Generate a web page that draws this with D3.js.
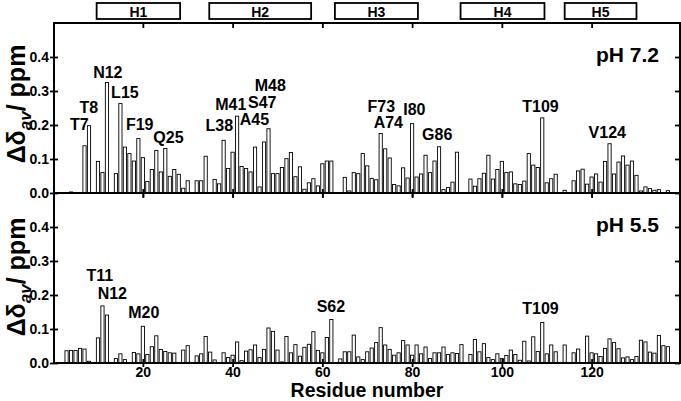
<!DOCTYPE html>
<html>
<head>
<meta charset="utf-8">
<script src="https://cdn.jsdelivr.net/npm/d3@7"></script>
<style>
body { margin: 0; background: #fff; }
text { font-family: Arial, "Liberation Sans", sans-serif; font-weight: bold; fill: #000; }
</style>
</head>
<body>
<div id="vis"></div>
<script>
// residue numbers and shift perturbations, pH 7.2
var res72 = [4, 7, 8, 10, 11, 12, 14, 15, 16, 17, 18, 19, 20, 21, 22, 23, 24, 25, 26, 27, 28, 29, 30,
  32, 33, 34, 36, 37, 38, 39, 40, 41, 42, 43, 44, 45, 46, 47, 48, 49, 50, 51, 52, 53, 54, 55, 56, 57,
  58, 59, 60, 61, 62, 65, 66, 67, 68, 69, 70, 71, 72, 73, 74, 75, 76, 77, 78, 79, 80, 81, 82, 83, 84,
  85, 86, 87, 88, 89, 90, 93, 94, 95, 96, 97, 98, 99, 100, 101, 102, 103, 104, 105, 106, 107, 108,
  109, 110, 111, 112, 114, 116, 117, 118, 119, 120, 121, 122, 123, 124, 125, 126, 127, 128, 129,
  130, 131, 132, 133, 134, 135, 137];
var val72 = [0.003, 0.139, 0.198, 0.093, 0.060, 0.325, 0.057, 0.263, 0.135, 0.116, 0.094, 0.160,
  0.104, 0.034, 0.069, 0.125, 0.062, 0.131, 0.049, 0.069, 0.055, 0.014, 0.036,
  0.036, 0.036, 0.108, 0.040, 0.027, 0.155, 0.072, 0.120, 0.226, 0.078, 0.072, 0.062, 0.135, 0.018,
  0.150, 0.189, 0.057, 0.057, 0.075, 0.101, 0.119, 0.048, 0.077, 0.011, 0.030,
  0.042, 0.021, 0.086, 0.094, 0.094, 0.046, 0.006, 0.060, 0.057, 0.116, 0.080, 0.043, 0.039, 0.175,
  0.130, 0.103, 0.025, 0.021, 0.074, 0.044, 0.204, 0.047, 0.056, 0.111, 0.060,
  0.094, 0.136, 0.010, 0.016, 0.032, 0.120, 0.041, 0.020, 0.042, 0.058, 0.111, 0.041, 0.069, 0.093,
  0.060, 0.062, 0.027, 0.025, 0.035, 0.116, 0.082, 0.075,
  0.221, 0.030, 0.042, 0.055, 0.008, 0.036, 0.065, 0.070, 0.026, 0.047, 0.056, 0.032, 0.093, 0.145,
  0.056, 0.091, 0.109, 0.082, 0.094,
  0.052, 0.006, 0.018, 0.013, 0.008, 0.010, 0.007];

// pH 5.5
var res55 = [3, 4, 5, 6, 7, 8, 10, 11, 12, 14, 15, 16, 18, 19, 20, 21, 22, 23, 24, 25, 26, 27, 29, 30,
  32, 33, 34, 35, 36, 38, 39, 40, 41, 42, 43, 44, 45, 46, 47, 48, 49, 50, 51, 52, 53, 54, 55, 56, 57,
  58, 59, 60, 61, 62, 64, 65, 66, 67, 68, 69, 70, 71, 72, 73, 74, 75, 76, 77, 78, 79, 80, 81, 82, 83,
  84, 85, 86, 87, 88, 89, 90, 91, 93, 94, 95, 96, 97, 98, 99, 100, 101, 102, 103, 104, 105, 106, 107,
  108, 109, 110, 111, 112, 114, 116, 117, 119, 120, 121, 122, 123, 124, 125, 126, 127, 128, 129, 130,
  131, 132, 133, 134, 135, 136, 137];
var val55 = [0.036, 0.037, 0.037, 0.043, 0.041, 0.005, 0.074, 0.168, 0.141, 0.013, 0.027, 0.010,
  0.031, 0.027, 0.108, 0.025, 0.048, 0.080, 0.040, 0.034, 0.030, 0.029, 0.038, 0.051,
  0.021, 0.027, 0.078, 0.032, 0.009, 0.030, 0.016, 0.023, 0.062, 0.007, 0.035, 0.039, 0.053, 0.016,
  0.040, 0.103, 0.093, 0.038, 0.003, 0.078, 0.030, 0.054, 0.020, 0.046, 0.055,
  0.092, 0.037, 0.030, 0.075, 0.128, 0.012, 0.033, 0.033, 0.082, 0.018, 0.010, 0.033, 0.044, 0.060,
  0.104, 0.053, 0.040, 0.023, 0.030, 0.066, 0.053, 0.023, 0.053, 0.027, 0.047,
  0.013, 0.030, 0.030, 0.047, 0.025, 0.030, 0.028, 0.054, 0.025, 0.069, 0.033, 0.057, 0.016, 0.010,
  0.027, 0.013, 0.022, 0.038, 0.025, 0.008, 0.064, 0.006, 0.077,
  0.034, 0.119, 0.027, 0.053, 0.033, 0.053, 0.030, 0.041, 0.079, 0.030, 0.027, 0.019, 0.043, 0.071,
  0.060, 0.042, 0.015, 0.018, 0.010, 0.019,
  0.067, 0.062, 0.032, 0.029, 0.081, 0.051, 0.048];

// labelled residues
var names72 = ["T7", "T8", "N12", "L15", "F19", "Q25", "L38", "M41", "A45", "S47", "M48",
  "F73", "A74", "I80", "G86", "T109", "V124"];
var names55 = ["T11", "N12", "M20", "S62", "T109"];
// where the labels sit (residue axis, ppm axis)
var labelAt72 = [[5.85, 0.184], [7.97, 0.234], [12.2, 0.337], [16.0, 0.279], [19.3, 0.184],
  [25.7, 0.146], [37.05, 0.181], [39.6, 0.243], [44.85, 0.199], [46.6, 0.249], [48.4, 0.299],
  [73.15, 0.238], [74.7, 0.19], [80.5, 0.229], [85.6, 0.155], [108.6, 0.238], [123.5, 0.161]];
var labelAt55 = [[10.4, 0.24], [13.2, 0.187], [20.2, 0.131], [61.9, 0.149], [108.6, 0.143]];

// helices
var helixNames = ["H1", "H2", "H3", "H4", "H5"];
var helixStart = [9.7, 34.8, 62.8, 90.8, 114];
var helixEnd = [28.3, 57.5, 81.3, 109.5, 130];

var xTicks = [20, 40, 60, 80, 100, 120];
var yTicks = [0, 0.1, 0.2, 0.3, 0.4];

var width = 681, height = 401;
var left = 54, right = 680, panelH = 170;

var svg = d3.select("#vis")
  .append("svg")
  .attr("width", width)
  .attr("height", height);

var x = d3.scaleLinear().domain([0.2, 139.7]).range([left, right]);

// helix boxes on top
var hg = svg.append("g");
helixNames.forEach(function(h, i) {
  hg.append("rect")
    .attr("x", x(helixStart[i]))
    .attr("y", 3)
    .attr("width", x(helixEnd[i]) - x(helixStart[i]))
    .attr("height", 16)
    .attr("fill", "#fff")
    .attr("stroke", "#000")
    .attr("stroke-width", 1.8);
  hg.append("text")
    .attr("x", (x(helixStart[i]) + x(helixEnd[i])) / 2)
    .attr("y", 16.5)
    .attr("text-anchor", "middle")
    .style("font-size", "14px")
    .text(h);
});

var panels = [
  {title: "pH 7.2", top: 23, mid: 104, res: res72, val: val72, names: names72, at: labelAt72},
  {title: "pH 5.5", top: 193, mid: 277, res: res55, val: val55, names: names55, at: labelAt55}
];

panels.forEach(function(p, pi) {
  var y = d3.scaleLinear().domain([0, 0.5]).range([p.top + panelH, p.top]);
  var g = svg.append("g");
  var bars = p.res.map(function(r, i) { return {r: r, v: p.val[i]}; });

  g.selectAll("rect.bar")
    .data(bars)
    .join("rect")
    .attr("class", "bar")
    .attr("x", d => x(d.r) - 1.6)
    .attr("width", 3.2)
    .attr("y", d => y(d.v))
    .attr("height", d => y(0) - y(d.v))
    .attr("fill", "#fff")
    .attr("stroke", "#000")
    .attr("stroke-width", 0.9);

  // axes: ticks cross on left/bottom, inward on top/right
  var ax = [
    {a: d3.axisLeft(y).tickValues(yTicks).tickSize(4).tickPadding(1).tickFormat(d3.format(".1f")), t: "translate(" + left + ",0)"},
    {a: d3.axisLeft(y).tickValues(yTicks).tickSize(-4).tickFormat(""), t: "translate(" + left + ",0)"},
    {a: d3.axisRight(y).tickValues(yTicks).tickSize(-5).tickFormat(""), t: "translate(" + right + ",0)"},
    {a: d3.axisBottom(x).tickValues(xTicks).tickSize(4).tickPadding(0).tickFormat(pi == 1 ? d3.format("d") : ""), t: "translate(0," + (p.top + panelH) + ")"},
    {a: d3.axisBottom(x).tickValues(xTicks).tickSize(-4).tickFormat(""), t: "translate(0," + (p.top + panelH) + ")"},
    {a: d3.axisTop(x).tickValues(xTicks).tickSize(-5).tickFormat(""), t: "translate(0," + p.top + ")"}
  ];
  ax.forEach(function(o) {
    var ag = g.append("g").attr("transform", o.t).call(o.a);
    ag.select(".domain").remove();
    ag.selectAll("line").attr("stroke", "#000").attr("stroke-width", 1.8);
    ag.selectAll("text").style("font-size", "14px").style("font-family", "Arial, 'Liberation Sans', sans-serif").style("font-weight", "bold").attr("fill", "#000");
  });

  g.append("rect")
    .attr("x", left)
    .attr("y", p.top)
    .attr("width", right - left)
    .attr("height", panelH)
    .attr("fill", "none")
    .attr("stroke", "#000")
    .attr("stroke-width", 2);

  g.append("text")
    .attr("x", 659)
    .attr("y", p.top + 39)
    .attr("text-anchor", "end")
    .style("font-size", "21px")
    .text(p.title);

  g.selectAll("text.lab")
    .data(p.names)
    .join("text")
    .attr("class", "lab")
    .attr("x", (d, i) => x(p.at[i][0]))
    .attr("y", (d, i) => y(p.at[i][1]))
    .attr("text-anchor", "middle")
    .style("font-size", "16px")
    .text(d => d);

  // y title
  var yt = g.append("text")
    .attr("transform", "translate(25," + p.mid + ") rotate(-90)")
    .attr("text-anchor", "middle")
    .style("font-size", "25px");
  yt.append("tspan").text("\u0394\u03b4");
  yt.append("tspan").attr("dy", 6).style("font-size", "17px").style("font-style", "italic").text("av");
  yt.append("tspan").attr("dy", -6).text("/ ppm");
});

svg.append("text")
  .attr("x", 367)
  .attr("y", 396.5)
  .attr("text-anchor", "middle")
  .style("font-size", "19.5px")
  .text("Residue number");
</script>
</body>
</html>
